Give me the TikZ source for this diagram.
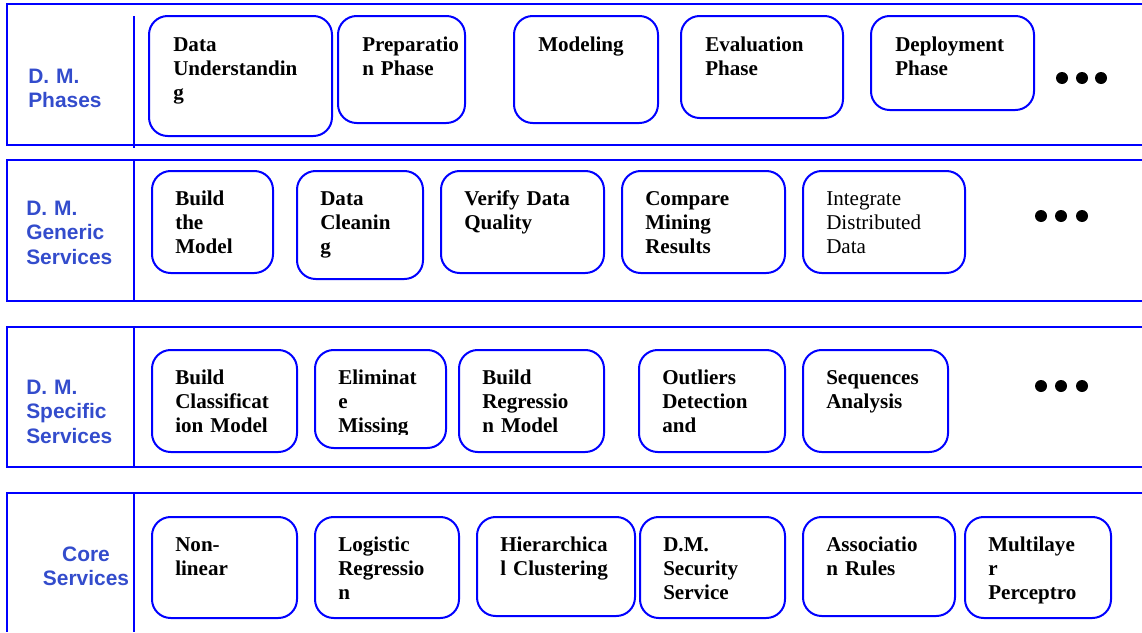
\documentclass[tikz,border=0pt]{standalone}
\usepackage{fontspec}
\setmainfont{Liberation Serif}
\setsansfont{Liberation Sans}
\newfontfamily\svcfont{Liberation Serif}
\usetikzlibrary{calc,fit}
\definecolor{BandClr}{rgb}{0,0,1}
\definecolor{LabelClr}{rgb}{0.2,0.3,0.8}

\begin{document}
\begin{tikzpicture}[x=0.75pt,y=-0.75pt,
  band/.style={draw=BandClr,line width=0.8pt},
  svcbox/.style={draw=BandClr,line width=1.5pt,rounded corners=14pt,inner sep=0pt},
  svctext/.style={anchor=base west,inner sep=0pt,text width=150pt,align=left,
    font=\fontsize{15.8}{18}\selectfont\svcfont\bfseries},
  layer/.style={inner sep=0pt,text width=90pt,text=LabelClr,
    font=\fontsize{15.7}{18.4}\selectfont\sffamily\bfseries}]
\useasboundingbox (0,0) rectangle (1142,632);

\draw[band] (1142,4) -- (7,4) -- (7,145) -- (1142,145);
\draw[band] (134,16) -- (134,148);
\draw[band] (1142,160) -- (7,160) -- (7,301) -- (1142,301);
\draw[band] (134,160) -- (134,301);
\draw[band] (1142,327) -- (7,327) -- (7,467) -- (1142,467);
\draw[band] (134,327) -- (134,467);
\draw[band] (1142,493) -- (7,493) -- (7,632);
\draw[band] (134,493) -- (134,632);

\node[layer,anchor=base west,align=left] (phases) at (28,83) {D. M.\\Phases};
\node[layer,anchor=base west,align=left] (generic) at (26,215) {D. M.\\Generic\\Services};
\node[layer,anchor=base west,align=left] (specific) at (26,394) {D. M.\\Specific\\Services};
\node[layer,anchor=base,align=center] (core) at (86,561) {Core\\Services};

\foreach \n/\a/\b/\t in {du/{149,16}/{332,136}/{Data\\Understandin\\g},
  prep/{338,16}/{465,123}/{Preparatio\\n Phase},
  model/{514,16}/{658,123}/{Modeling},
  eval/{681,16}/{843,118}/{Evaluation\\Phase},
  deploy/{871,16}/{1034,110}/{Deployment\\Phase}}{
  \node[svcbox,fit={(\a) (\b)}] (\n) {};
  \node[svctext] (\n t) at ($(\n.north west)+(25,36)$) {\t};
}
\foreach \x in {1062,1082,1101} \fill (\x,78) circle (4.5pt);

\foreach \n/\a/\b/\t in {build/{152,171}/{273,273}/{Build\\the\\Model},
  clean/{297,171}/{423,279}/{Data\\Cleanin\\g},
  verify/{441,171}/{604,273}/{Verify Data\\Quality},
  compare/{622,171}/{785,273}/{Compare\\Mining\\Results},
  integ/{803,171}/{965,273}/{\mdseries Integrate\\Distributed\\Data}}{
  \node[svcbox,fit={(\a) (\b)}] (\n) {};
  \node[svctext] (\n t) at ($(\n.north west)+(24,35)$) {\t};
}
\foreach \x in {1041,1061,1082} \fill (\x,216) circle (4.5pt);

\foreach \n/\a/\b/\t in {classif/{152,350}/{297,452}/{Build\\Classificat\\ion Model},
  elim/{315,350}/{446,448}/{Eliminat\\e\\Missing},
  regr/{459,350}/{604,452}/{Build\\Regressio\\n Model},
  outl/{639,350}/{785,452}/{Outliers\\Detection\\and},
  seq/{803,350}/{948,452}/{Sequences\\Analysis}}{
  \node[svcbox,fit={(\a) (\b)}] (\n) {};
  \begin{scope}
  \clip (140,340) rectangle (1000,434);
  \node[svctext] (\n t) at ($(\n.north west)+(24,35)$) {\t};
  \end{scope}
}
\foreach \x in {1041,1061,1082} \fill (\x,386) circle (4.5pt);

\foreach \n/\a/\b/\t in {nonlin/{152,517}/{297,618}/{Non-\\linear},
  logit/{315,517}/{459,618}/{Logistic\\Regressio\\n},
  hier/{477,517}/{635,616}/{Hierarchica\\l Clustering},
  secur/{640,517}/{785,618}/{D.M.\\Security\\Service},
  assoc/{803,517}/{955,616}/{Associatio\\n Rules},
  mlp/{965,517}/{1111,618}/{Multilaye\\r\\Perceptro}}{
  \node[svcbox,fit={(\a) (\b)}] (\n) {};
  \node[svctext] (\n t) at ($(\n.north west)+(24,35)$) {\t};
}
\end{tikzpicture}
\end{document}
